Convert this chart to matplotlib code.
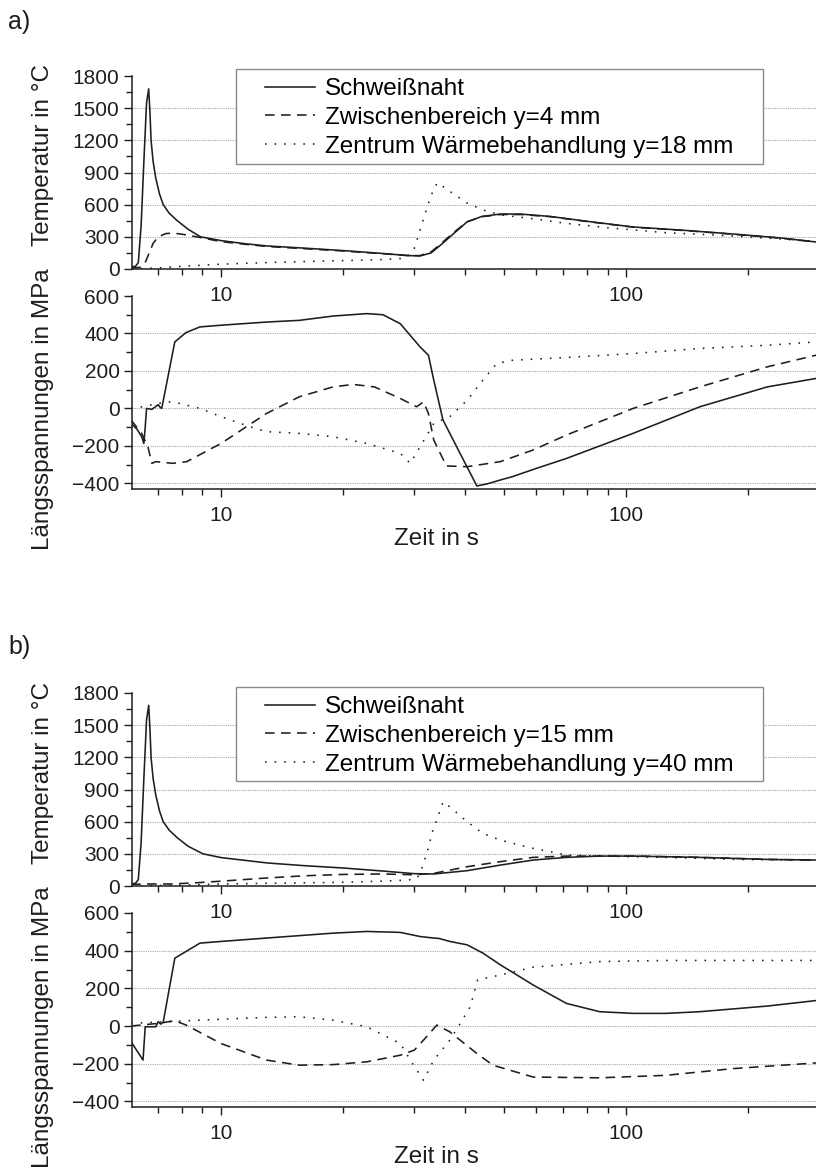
import numpy as np
import matplotlib.pyplot as plt
from matplotlib.ticker import FixedLocator, FuncFormatter, MultipleLocator
from matplotlib.patches import Rectangle

plt.rcParams['font.family'] = ['Liberation Sans', 'DejaVu Sans']

# ---- data (time in s) ----
# a) temperature
ta_weld_x = [6.0, 6.15, 6.25, 6.35, 6.45, 6.55, 6.63, 6.68, 6.72, 6.8, 6.9, 7.05, 7.2, 7.45, 7.8, 8.3, 8.9,
             10, 11.5, 13, 16, 20, 25, 29, 31, 33, 35, 37.5, 40.5, 44, 49, 55, 65, 80, 104, 140, 184, 240, 294]
ta_weld_y = [20, 25, 60, 400, 1000, 1550, 1680, 1450, 1200, 1000, 850, 700, 600, 520, 450, 370, 300,
             265, 235, 215, 195, 172, 145, 125, 122, 150, 230, 330, 440, 490, 513, 512, 490, 445, 392, 360, 326, 290, 252]
ta_mid_x = [6.0, 6.3, 6.5, 6.65, 6.8, 7.0, 7.3, 7.6, 8.0, 9.0, 10, 11.5, 13, 16, 20, 25, 29, 31, 33, 35,
            37.5, 40.5, 44, 49, 55, 65, 80, 104, 140, 184, 240, 294]
ta_mid_y = [10, 15, 60, 150, 240, 300, 330, 335, 325, 290, 255, 230, 210, 190, 168, 143, 125, 125, 160, 240,
            340, 440, 488, 508, 508, 488, 443, 390, 358, 324, 288, 252]
ta_ctr_x = [6.0, 7, 8, 10, 13, 16, 20, 25, 28.5, 29.9, 31.0, 32.2, 33.4, 34.2, 36.8, 40.5, 44.3, 49, 60, 71,
            90, 125, 184, 240, 294]
ta_ctr_y = [0, 10, 25, 45, 60, 70, 78, 88, 100, 177, 364, 568, 737, 805, 721, 615, 550, 505, 465, 426,
            385, 339, 308, 280, 255]

# a) longitudinal stress
sa_weld_x = [6.0, 6.2, 6.37, 6.45, 6.5, 6.55, 6.75, 6.9, 7.0, 7.08, 7.14, 7.69, 8.2, 8.87, 10, 12.95, 15.6,
             18.9, 22.9, 25.1, 27.7, 31.0, 31.6, 32.5, 33.5, 35.3, 38.9, 42.8, 45.3, 48.9, 52.4, 60, 71.2,
             104, 152, 223, 294]
sa_weld_y = [-80, -110, -151, -187, -100, 0, -5, 10, 20, 5, 0, 355, 405, 435, 444, 461, 470,
             493, 506, 500, 452, 328, 310, 284, 151, -62, -240, -414, -403, -382, -364, -320, -267,
             -133, 9, 115, 160]
sa_mid_x = [6.0, 6.37, 6.6, 6.75, 6.9, 7.6, 8.23, 10, 12.95, 15.6, 18.9, 21.2, 23.9, 27.7, 30.4, 31.6, 32.5,
            33.5, 36, 40.5, 48.9, 58.9, 71.2, 104, 152, 223, 294]
sa_mid_y = [-62, -133, -204, -293, -284, -293, -284, -187, -27, 62, 115, 128, 115, 53, 9, 35, -27,
            -169, -307, -311, -284, -222, -142, 0, 115, 222, 284]
sa_ctr_x = [6.0, 6.4, 7.35, 7.9, 8.87, 10, 11.8, 12.95, 15.6, 18.9, 22.9, 27.7, 29.3, 31.0, 33.5, 36.7, 40.5,
            44.3, 47.9, 52.4, 71.2, 104, 152, 223, 294]
sa_ctr_y = [0, 9, 36, 27, 0, -44, -98, -124, -133, -151, -187, -240, -293, -204, -80, -44, 44,
            151, 240, 257, 272, 293, 320, 337, 355]

# b) temperature
tb_weld_x = [6.0, 6.15, 6.25, 6.35, 6.45, 6.55, 6.63, 6.68, 6.72, 6.8, 6.9, 7.05, 7.2, 7.45, 7.8, 8.3, 9.03,
             10, 13, 16, 20, 25, 30, 33.5, 40.5, 48.9, 58.9, 71.2, 86, 104, 152, 223, 294]
tb_weld_y = [20, 25, 60, 400, 1000, 1550, 1685, 1450, 1200, 1000, 850, 700, 600, 520, 450, 370, 300,
             265, 215, 190, 168, 140, 115, 112, 143, 195, 242, 267, 279, 279, 267, 248, 242]
tb_mid_x = [6.0, 6.6, 7.5, 8.5, 10, 13, 16, 20, 25, 30, 33.5, 40.5, 48.9, 58.9, 71.2, 86, 104, 152, 223, 294]
tb_mid_y = [15, 19, 19, 28, 45, 75, 95, 108, 112, 105, 118, 180, 227, 267, 279, 279, 279, 267, 248, 242]
tb_ctr_x = [6.0, 8, 10, 15, 20, 25, 29, 30.4, 31, 32.2, 33.5, 34.1, 35.3, 36.7, 40.5, 44.3, 48.9, 58.9, 71.2,
            86, 125, 184, 294]
tb_ctr_y = [0, 8, 19, 28, 35, 45, 56, 70, 118, 304, 552, 614, 785, 739, 599, 490, 428, 351, 289,
            279, 267, 248, 240]

# b) longitudinal stress
sb_weld_x = [6.0, 6.42, 6.5, 6.9, 7.0, 7.1, 7.2, 7.69, 8.87, 10, 12.95, 18.9, 22.9, 27.7, 31, 33.5, 34.5,
             36.7, 40.5, 44.3, 48.9, 58.9, 71.2, 86, 104, 125, 152, 223, 294]
sb_weld_y = [-84, -181, -4, -4, 23, 10, 20, 360, 440, 449, 467, 493, 502, 497, 475, 467, 465,
             449, 431, 387, 325, 218, 120, 76, 67, 67, 76, 106, 135]
sb_mid_x = [6.0, 7.0, 7.7, 8.2, 10, 12.95, 15.6, 18.9, 22.9, 27.7, 30, 31.6, 34.1, 36.7, 42.8, 46.9, 58.9,
            86, 125, 184, 294]
sb_mid_y = [0, 14, 28, 5, -93, -181, -208, -205, -190, -155, -128, -75, 5, -31, -146, -208, -271,
            -275, -262, -226, -196]
sb_ctr_x = [6.0, 7.35, 8.87, 12.95, 15.6, 18.9, 22.9, 27.7, 29.5, 31.6, 33.5, 36.7, 38.5, 41.2, 43, 48.9,
            58.9, 86, 125, 294]
sb_ctr_y = [14, 23, 31, 46, 49, 31, -4, -93, -190, -288, -181, -75, -4, 102, 245, 271,
            312, 342, 348, 348]

labels_a = ['Schweißnaht', 'Zwischenbereich y=4 mm', 'Zentrum Wärmebehandlung y=18 mm']
labels_b = ['Schweißnaht', 'Zwischenbereich y=15 mm', 'Zentrum Wärmebehandlung y=40 mm']

W, H = 816, 1168
fig = plt.figure(figsize=(W / 100, H / 100), dpi=100)
ink = '#1e1e1e'
label_fs = 17.5


def add_ax(left, top, right, bottom):
    return fig.add_axes([left / W, 1 - bottom / H, (right - left) / W, (bottom - top) / H])


def style(ax, ylim, major, minor, grid):
    ax.set_xscale('log')
    ax.set_xlim(6.03, 294)
    ax.set_ylim(*ylim)
    ax.xaxis.set_major_locator(FixedLocator([10, 100]))
    ax.xaxis.set_minor_locator(FixedLocator([7, 8, 9, 20, 30, 40, 50, 60, 70, 80, 90, 200]))
    ax.xaxis.set_major_formatter(FuncFormatter(lambda v, p: f'{v:g}'))
    ax.xaxis.set_minor_formatter(FuncFormatter(lambda v, p: ''))
    ax.yaxis.set_major_locator(MultipleLocator(major))
    ax.yaxis.set_minor_locator(MultipleLocator(minor))
    for s in ['top', 'right']:
        ax.spines[s].set_visible(False)
    for s in ['left', 'bottom']:
        ax.spines[s].set_color(ink)
        ax.spines[s].set_linewidth(1.1)
    ax.tick_params(which='major', direction='out', length=6, width=1, colors=ink,
                   labelsize=15, pad=3)
    ax.tick_params(which='minor', direction='out', length=4, width=1, colors=ink)
    ax.tick_params(axis='x', which='major', pad=6)
    for g in grid:
        ax.axhline(g, color='#a8a8a8', lw=0.8, ls=(0, (1, 1)), zorder=0)
    ax.patch.set_alpha(0)


def draw(ax, xs, ys, labels=None):
    styles = [dict(ls='-'), dict(ls=(0, (6, 4))), dict(ls=(0, (1, 5)))]
    for i, (x, y) in enumerate(zip(xs, ys)):
        ax.plot(x, y, color=ink, lw=1.15, label=None if labels is None else labels[i], **styles[i])


def legend_box(top, bottom, labels, handles):
    fig.patches.append(Rectangle((236 / W, 1 - bottom / H), 527 / W, (bottom - top) / H,
                                 transform=fig.transFigure, facecolor='white',
                                 edgecolor='#8a8a8a', lw=1.0, zorder=3))
    fig.legend(handles, labels, loc='upper left', bbox_to_anchor=(265 / W, 1 - (top + 9) / H),
               frameon=False, fontsize=label_fs, handlelength=2.06, handletextpad=0.41,
               labelspacing=0.28, borderpad=0, borderaxespad=0)


panels = [
    (76, 269, 296, 489, [ta_weld_x, ta_mid_x, ta_ctr_x], [ta_weld_y, ta_mid_y, ta_ctr_y],
     [sa_weld_x, sa_mid_x, sa_ctr_x], [sa_weld_y, sa_mid_y, sa_ctr_y], labels_a, 'a)', 22, 69, 164),
    (693, 886, 913, 1107, [tb_weld_x, tb_mid_x, tb_ctr_x], [tb_weld_y, tb_mid_y, tb_ctr_y],
     [sb_weld_x, sb_mid_x, sb_ctr_x], [sb_weld_y, sb_mid_y, sb_ctr_y], labels_b, 'b)', 647, 687, 781),
]

for (t0, t1, s0, s1, txs, tys, sxs, sys_, labels, tag, tag_y, lg0, lg1) in panels:
    ax_t = add_ax(132, t0, W, t1)
    ax_s = add_ax(132, s0, W, s1)
    style(ax_t, (0, 1800), 300, 150, [300, 600, 900, 1200, 1500])
    style(ax_s, (-430, 600), 200, 100, [-400, -200, 0, 200, 400])
    draw(ax_t, txs, tys, labels)
    draw(ax_s, sxs, sys_)
    h, l = ax_t.get_legend_handles_labels()
    legend_box(lg0, lg1, l, h)
    fig.text(8 / W, 1 - tag_y / H, tag, fontsize=18, va='center', ha='left', color=ink)
    fig.text(43 / W, 1 - ((t0 + t1) / 2 - 17) / H, 'Temperatur in °C', rotation=90,
             fontsize=label_fs, va='center', ha='center', color=ink)
    fig.text(43 / W, 1 - ((s0 + s1) / 2 + 17) / H, 'Längsspannungen in MPa', rotation=90,
             fontsize=label_fs, va='center', ha='center', color=ink)
    fig.text(436 / W, 1 - (s1 + 50) / H, 'Zeit in s', fontsize=label_fs, va='center', ha='center', color=ink)

fig.savefig('out.png', dpi=100, facecolor='white')
